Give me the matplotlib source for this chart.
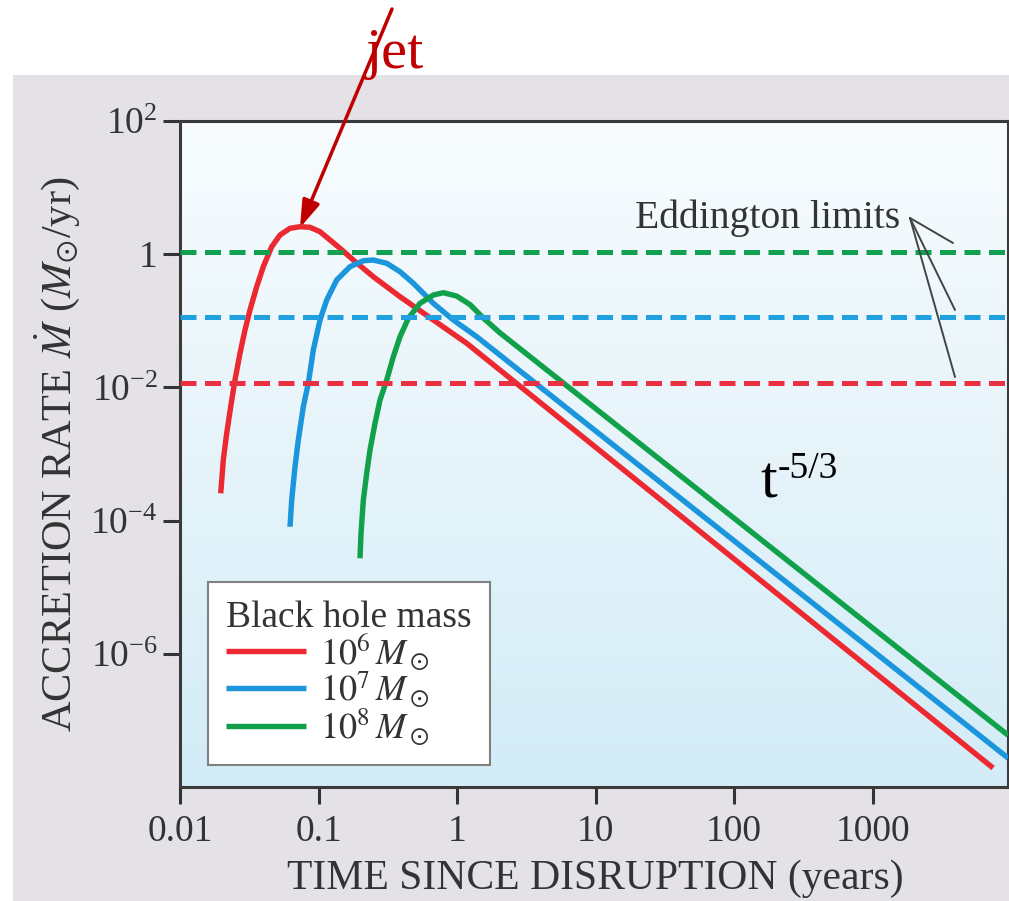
import numpy as np
import matplotlib
matplotlib.use("Agg")
import matplotlib.pyplot as plt
from matplotlib.patches import Rectangle
from matplotlib.colors import LinearSegmentedColormap
from matplotlib.ticker import FixedLocator, FixedFormatter, NullLocator

# ---------------- data ----------------
red_t = [0.01968, 0.02054, 0.02174, 0.02323, 0.02494, 0.02711, 0.02946, 0.03201, 0.03579,
         0.03994, 0.04593, 0.05272, 0.06226, 0.07352, 0.08683, 0.1025, 0.1211, 0.1429,
         0.1784, 0.2487, 0.3877, 0.6745, 1.175, 2.04, 7410]
red_mdot = [2.57e-4, 8.13e-4, 2.05e-3, 5.13e-3, 0.01291, 0.0325, 0.0728, 0.1452, 0.325,
            0.649, 1.297, 1.941, 2.449, 2.588, 2.535, 2.178, 1.633, 1.227,
            0.818, 0.459, 0.230, 0.1028, 0.0459, 0.01824, 1.93e-8]

blue_t = [0.06226, 0.06405, 0.06765, 0.07147, 0.07767, 0.08440, 0.09173, 0.1025, 0.1146,
          0.1353, 0.1688, 0.2107, 0.2487, 0.3108, 0.3877, 0.4836, 0.6745, 0.9404, 1.387,
          2.04, 9510]
blue_mdot = [8.09e-5, 2.04e-4, 6.44e-4, 1.62e-3, 5.13e-3, 0.01153, 0.0365, 0.1028, 0.2051,
             0.410, 0.649, 0.798, 0.818, 0.730, 0.546, 0.366, 0.1832, 0.1028, 0.0577,
             0.0306, 2.72e-8]

green_t = [0.1993, 0.2027, 0.2107, 0.2228, 0.2353, 0.2558, 0.2780, 0.3108, 0.3468, 0.3877,
           0.4451, 0.5407, 0.6745, 0.7963, 0.995, 1.2415, 1.548, 2.04, 9510]
green_mdot = [2.72e-5, 6.44e-5, 2.04e-4, 5.13e-4, 1.148e-3, 2.89e-3, 6.47e-3, 0.01291, 0.0289,
              0.0577, 0.1091, 0.1832, 0.2439, 0.2642, 0.235, 0.175, 0.110, 0.0660, 6.0e-8]

eddington = [1.08, 0.115, 0.0115]   # green, blue, red limits
series_labels = [r'$10^6\,M_\odot$', r'$10^7\,M_\odot$', r'$10^8\,M_\odot$']

xticks = [0.01, 0.1, 1, 10, 100, 1000]
xticklabels = ['0.01', '0.1', '1', '10', '100', '1000']
yticks = [1e-6, 1e-4, 1e-2, 1, 1e2]
yticklabels = [r'$\mathregular{10^{-6}}$', r'$\mathregular{10^{-4}}$', r'$\mathregular{10^{-2}}$',
               '1', r'$\mathregular{10^{2}}$']

# ---------------- style ----------------
plt.rcParams['font.family'] = ['Liberation Serif', 'DejaVu Serif']
plt.rcParams['mathtext.fontset'] = 'stix'

RED = '#ec2830'
BLUE = '#1b95dc'
GREEN = '#12a14b'
DRED = '#c00000'

W, H = 1009, 901
fig = plt.figure(figsize=(W / 100, H / 100), dpi=100)
fig.patch.set_facecolor('white')

# gray panel
fig.patches.append(Rectangle((13 / W, 0), 1 - 13 / W, (H - 75) / H,
                             transform=fig.transFigure, facecolor='#e4e1e7',
                             edgecolor='none', zorder=-5))

pos = [180 / W, 1 - 787 / H, (1008 - 180) / W, (787 - 121) / H]

# gradient background
bg = fig.add_axes(pos, zorder=0)
cmap = LinearSegmentedColormap.from_list('bgc', ['#d3ecf7', '#e6f4fa', '#f8fcfe'])
grad = np.linspace(0, 1, 256).reshape(-1, 1)
bg.imshow(grad, aspect='auto', cmap=cmap, origin='lower', extent=[0, 1, 0, 1])
bg.set_axis_off()

ax = fig.add_axes(pos, zorder=1)
ax.patch.set_alpha(0)
ax.set_xscale('log')
ax.set_yscale('log')
ax.set_xlim(0.01, 9500)
ax.set_ylim(1e-8, 1e2)

lw = 3.9
l1, = ax.plot(red_t, red_mdot, color=RED, lw=lw, solid_capstyle='butt',
              solid_joinstyle='round', zorder=3)
l2, = ax.plot(blue_t, blue_mdot, color=BLUE, lw=lw, solid_capstyle='butt',
              solid_joinstyle='round', zorder=3)
l3, = ax.plot(green_t, green_mdot, color=GREEN, lw=lw, solid_capstyle='butt',
              solid_joinstyle='round', zorder=3)

for yv, c in zip(eddington, ['#10a050', '#20a0de', '#e93040']):
    ax.axhline(yv, color=c, lw=3.6, dashes=(3.2, 1.7), zorder=4)

ax.xaxis.set_major_locator(FixedLocator(xticks))
ax.xaxis.set_major_formatter(FixedFormatter(xticklabels))
ax.xaxis.set_minor_locator(NullLocator())
ax.yaxis.set_major_locator(FixedLocator(yticks))
ax.yaxis.set_major_formatter(FixedFormatter(yticklabels))
ax.yaxis.set_minor_locator(NullLocator())

ax.tick_params(axis='both', which='major', direction='out', length=12, width=2.2,
               color='#333333', labelcolor='#333333', labelsize=27)
ax.tick_params(axis='x', pad=8)
ax.tick_params(axis='y', pad=4)
for s in ax.spines.values():
    s.set_color('#3a3a3a')
    s.set_linewidth(2.2)

ax.set_xlabel('TIME SINCE DISRUPTION (years)', fontsize=30, color='#333333', va='baseline')
ax.xaxis.set_label_coords((595 - 180) / 828, -(889 - 787) / 666)
ax.set_ylabel(r'ACCRETION RATE $\dot{M}$ ($M_{\odot}$/yr)', fontsize=30.5, color='#333333',
              va='center')
ax.yaxis.set_label_coords((57 - 180) / 828, 0.5)

leg = ax.legend([l1, l2, l3], series_labels, title='Black hole mass',
                loc='upper left', bbox_to_anchor=(208 / W, 1 - 582 / H),
                bbox_transform=fig.transFigure, borderaxespad=0,
                fontsize=26, title_fontsize=27, frameon=True, fancybox=False,
                edgecolor='#808080', facecolor='white', framealpha=1,
                handlelength=2.2, handletextpad=0.4, labelspacing=-0.1,
                borderpad=0.5, alignment='left')
leg.get_frame().set_linewidth(1.5)
for t in leg.get_texts():
    t.set_color('#333333')
leg.get_title().set_color('#333333')
leg.set_zorder(6)

# Eddington label with pointer lines
fig.text(635 / W, 1 - 228 / H, 'Eddington limits', fontsize=28.5, color='#333333',
         va='baseline', ha='left', zorder=7)
for (tx, ty) in [(953, 243), (955, 310), (955, 377)]:
    ax.annotate('', xy=(tx, H - ty), xycoords='figure pixels',
                xytext=(910, H - 218), textcoords='figure pixels',
                arrowprops=dict(arrowstyle='-', color='#444444', lw=1.4,
                                shrinkA=0, shrinkB=0), annotation_clip=False, zorder=7)

# t^-5/3
fig.text(760 / W, 1 - 497 / H, 't', fontsize=43, color='black', va='baseline', ha='left')
fig.text(778 / W, 1 - 478 / H, '-5/3', fontsize=27, color='black', va='baseline', ha='left')

# jet annotation
fig.text(366 / W, 1 - 68 / H, 'jet', fontsize=42, color=DRED, va='baseline', ha='left', zorder=8)
ax.annotate('', xy=(0.0735, 2.5), xycoords='data',
            xytext=(392, H - 9), textcoords='figure pixels',
            arrowprops=dict(arrowstyle='-|>,head_length=0.55,head_width=0.18',
                            mutation_scale=30, color=DRED, lw=2.5,
                            shrinkA=0, shrinkB=0),
            annotation_clip=False, zorder=9)

fig.savefig('out.png', dpi=100)
